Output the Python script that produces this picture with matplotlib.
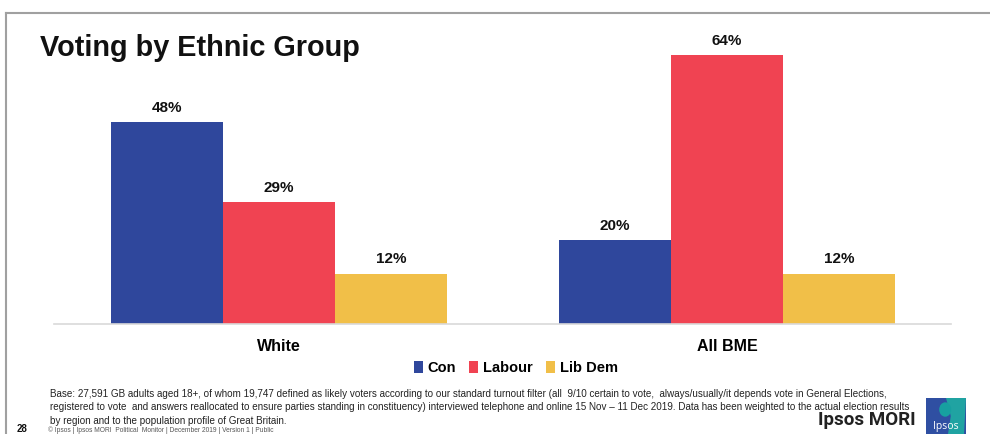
import numpy as np
import matplotlib
matplotlib.use('Agg')
import matplotlib.pyplot as plt
from matplotlib.patches import Rectangle, Polygon, Ellipse

plt.rcParams['font.family'] = ['Liberation Sans', 'DejaVu Sans']

groups = ['White', 'All BME']
parties = ['Con', 'Labour', 'Lib Dem']
con = [48, 20]
labour = [29, 64]
libdem = [12, 12]
colours = ['#2f479c', '#f04352', '#f1bf48']

footnote = [
    "Base: 27,591 GB adults aged 18+, of whom 19,747 defined as likely voters according to our standard turnout filter (all  9/10 certain to vote,  always/usually/it depends vote in General Elections,",
    "registered to vote  and answers reallocated to ensure parties standing in constituency) interviewed telephone and online 15 Nov \u2013 11 Dec 2019. Data has been weighted to the actual election results",
    "by region and to the population profile of Great Britain.",
]
slide_info = "\u00a9 Ipsos | Ipsos MORI  Political  Monitor | December 2019 | Version 1 | Public"

fig = plt.figure(figsize=(9.9, 4.34), dpi=100)

# slide frame
fig.add_artist(plt.Line2D([0.006, 0.006], [0.0, 0.970], color='#a0a0a0', lw=1.5))
fig.add_artist(plt.Line2D([0.006, 1.0], [0.970, 0.970], color='#a0a0a0', lw=1.5))

ax = fig.add_axes([0.0545, 0.2535, 0.906, 0.6774])
x = np.arange(len(groups))
w = 0.25
series = [con, labour, libdem]
for i, (vals, col) in enumerate(zip(series, colours)):
    pos = x + (i - 1) * w
    bars = ax.bar(pos, vals, w, color=col, label=parties[i], zorder=2)
    for b, v in zip(bars, vals):
        ax.text(b.get_x() + b.get_width() / 2, v + 1.7, f'{v}%',
                ha='center', va='bottom', fontsize=11, fontweight='bold', color='#111111')

ax.set_xlim(-0.502, 1.500)
ax.set_ylim(0, 70)
ax.set_yticks([])
ax.set_xticks(x)
ax.set_xticklabels(groups, fontsize=11.5, fontweight='bold')
ax.tick_params(axis='x', length=0, pad=11)
for s in ['top', 'right', 'left']:
    ax.spines[s].set_visible(False)
ax.spines['bottom'].set_color('#d9d9d9')
ax.spines['bottom'].set_linewidth(1.2)

leg = ax.legend(loc='center', bbox_to_anchor=(0.515, -0.150), ncol=3, frameon=False,
                handlelength=0.6, handleheight=0.8, handletextpad=0.35, columnspacing=0.9,
                prop={'size': 10.5, 'weight': 'bold'})

fig.text(0.040, 0.890, 'Voting by Ethnic Group', fontsize=20.8, fontweight='bold',
         ha='left', va='center', color='#111111')

for k, line in enumerate(footnote):
    fig.text(0.051, 1 - (394 + 13.5 * k) / 434, line, fontsize=7.1, ha='left', va='center',
             color='#222222', family=['Liberation Sans Narrow', 'Liberation Sans'])
fig.text(0.017, 0.001, '28', fontsize=7, fontweight='bold', ha='left', va='bottom',
         color='#111111')
fig.text(0.048, 0.001, slide_info, fontsize=4.8, ha='left', va='bottom', color='#555555')

fig.text(0.8265, 1 - 420 / 434, 'Ipsos MORI', fontsize=13.5, fontweight='bold', ha='left',
         va='center', color='#222222', family=['Roboto', 'Liberation Sans'])

# logo block
lx0, ly0, lw, lh = 926 / 990, 1 - 434 / 434, 40 / 990, 36 / 434
fig.add_artist(Rectangle((lx0, ly0), lw, lh, transform=fig.transFigure, color='#2f4fa2', lw=0))
fig.add_artist(Polygon([(lx0 + lw * 0.5, ly0 + lh), (lx0 + lw, ly0 + lh), (lx0 + lw * 0.95, ly0),
                        (lx0 + lw * 0.55, ly0), (lx0 + lw * 0.62, ly0 + lh * 0.5)],
                       closed=True, transform=fig.transFigure, color='#20a3a2', lw=0))
fig.add_artist(Ellipse((lx0 + lw * 0.48, ly0 + lh * 0.68), lw * 0.3, lh * 0.4,
                       transform=fig.transFigure, color='#17a0a0', lw=0))
fig.text(lx0 + lw * 0.5, ly0 + lh * 0.22, 'Ipsos', fontsize=7.5, color='white', ha='center',
         va='center', family=['Open Sans', 'Liberation Sans'])

fig.savefig('out.png', dpi=100)
